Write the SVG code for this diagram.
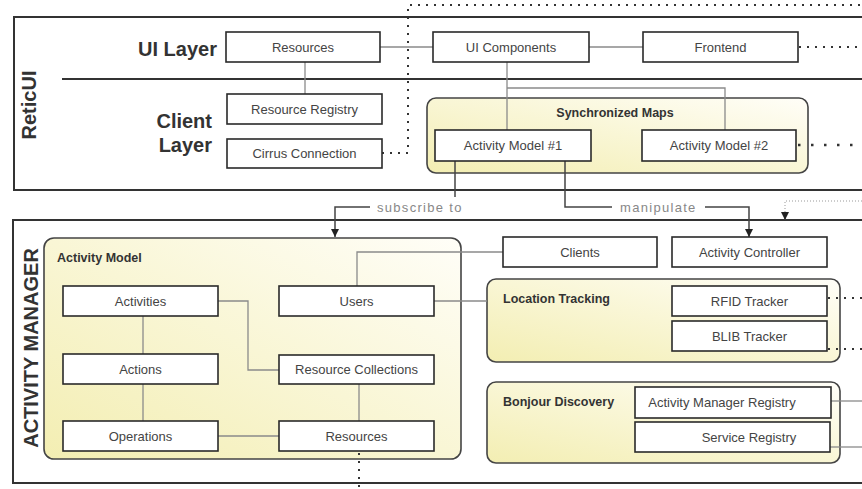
<svg xmlns="http://www.w3.org/2000/svg" width="862" height="489" viewBox="0 0 862 489">
  <style>
    .frame { fill: #ffffff; stroke: #333333; stroke-width: 2; }
    .sep { stroke: #333333; stroke-width: 2; }
    .box { fill: #ffffff; stroke: #2a2a2a; stroke-width: 1.6; }
    .group { fill: url(#yellowFill); stroke: #444444; stroke-width: 1.6; }
    .lbl { font-family: "Liberation Sans", Arial, sans-serif; font-size: 13px; fill: #444444; text-anchor: middle; dominant-baseline: central; }
    .glbl { font-family: "Liberation Sans", Arial, sans-serif; font-size: 12.5px; font-weight: bold; fill: #333333; dominant-baseline: central; }
    .big { font-family: "Liberation Sans", Arial, sans-serif; font-size: 20px; font-weight: bold; fill: #333333; }
    .elbl { font-family: "Liberation Sans", Arial, sans-serif; font-size: 13px; fill: #888888; letter-spacing: 1.3px; dominant-baseline: central; }
    .link { fill: none; stroke: #8a8a8a; stroke-width: 1.3; }
    .flow { fill: none; stroke: #444444; stroke-width: 1.5; }
    .dots { fill: none; stroke: #333333; stroke-width: 2; stroke-dasharray: 2 6; }
    .dotsWide { fill: none; stroke: #333333; stroke-width: 2.4; stroke-dasharray: 2.5 10.5; }
    .dotsFine { fill: none; stroke: #999999; stroke-width: 1; stroke-dasharray: 1 2; }
  </style>
  <defs>
    <linearGradient id="yellowFill" x1="1" y1="0" x2="0" y2="1">
      <stop offset="0" stop-color="#fffef8"/>
      <stop offset="1" stop-color="#f3eeb2"/>
    </linearGradient>
    <marker id="arrow" viewBox="0 0 10 10" refX="10" refY="5" markerWidth="8" markerHeight="8" markerUnits="userSpaceOnUse" orient="auto">
      <path d="M0,0 L10,5 L0,10 Z" fill="#222222"/>
    </marker>
  </defs>

  <rect width="862" height="489" fill="#ffffff"/>

  <!-- ReticUI frame -->
  <g id="reticui">
    <rect class="frame" x="14" y="17" width="860" height="173"/>
    <line class="sep" x1="62" y1="79" x2="862" y2="79"/>
    <text class="big" transform="translate(36,105) rotate(-90)" text-anchor="middle">ReticUI</text>
    <text class="big" x="217" y="56" text-anchor="end">UI Layer</text>
    <text class="big" x="212" y="128" text-anchor="end">Client</text>
    <text class="big" x="212" y="152" text-anchor="end">Layer</text>
  </g>

  <!-- Activity Manager frame -->
  <g id="activity-manager">
    <rect class="frame" x="13" y="220" width="860" height="263"/>
    <text class="big" transform="translate(38,348) rotate(-90)" text-anchor="middle">ACTIVITY MANAGER</text>
  </g>

  <!-- Containers -->
  <g id="synchronized-maps">
    <rect class="group" x="427" y="98" width="381" height="75" rx="9"/>
    <text class="glbl" x="615" y="113" text-anchor="middle">Synchronized Maps</text>
  </g>
  <g id="activity-model">
    <rect class="group" x="44" y="238" width="417" height="221" rx="10"/>
    <text class="glbl" x="57" y="258">Activity Model</text>
  </g>
  <g id="location-tracking">
    <rect class="group" x="487" y="279" width="353" height="83" rx="9"/>
    <text class="glbl" x="503" y="299">Location Tracking</text>
  </g>
  <g id="bonjour-discovery">
    <rect class="group" x="487" y="382" width="353" height="81" rx="9"/>
    <text class="glbl" x="503" y="402">Bonjour Discovery</text>
  </g>

  <!-- Connectors -->
  <g id="connectors">
    <path class="link" d="M380,47 H433"/>
    <path class="link" d="M589,47 H643"/>
    <path class="link" d="M305,62 V94"/>
    <path class="link" d="M507,62 V130"/>
    <path class="link" d="M507,88 H725 V130"/>
    <path class="link" d="M143,316 V354"/>
    <path class="link" d="M143,384 V421"/>
    <path class="link" d="M218,436 H279"/>
    <path class="link" d="M218,301 H248 V370 H279"/>
    <path class="link" d="M359,384 V421"/>
    <path class="link" d="M357,286 V252 H503"/>
    <path class="link" d="M434,301 H487"/>
    <path class="link" d="M831,401 H862"/>
    <path class="link" d="M830,447 H862"/>

    <path class="flow" d="M455,161 V197"/>
    <path class="flow" d="M370,207 H335 V237" marker-end="url(#arrow)"/>
    <text class="elbl" x="377" y="207">subscribe to</text>

    <path class="flow" d="M565,161 V207 H612"/>
    <path class="flow" d="M705,207 H749 V237" marker-end="url(#arrow)"/>
    <text class="elbl" x="620" y="207">manipulate</text>

    <path class="dots" d="M382,153 H408 V5 H862"/>
    <path class="dots" d="M799,47 H862"/>
    <path class="dotsWide" d="M798,145 H862"/>
    <path class="dotsFine" d="M862,201 H785 V213"/>
    <path class="flow" d="M785,213 V220" marker-end="url(#arrow)"/>
    <path class="dots" d="M828,298 H862"/>
    <path class="dots" d="M828,349 H862"/>
    <path class="dots" d="M359,453 V489"/>
  </g>

  <!-- Nodes -->
  <g id="ui-resources"><rect class="box" x="226" y="32" width="154" height="30"/><text class="lbl" x="303" y="47">Resources</text></g>
  <g id="resource-registry"><rect class="box" x="227" y="94" width="155" height="30"/><text class="lbl" x="304.5" y="109">Resource Registry</text></g>
  <g id="cirrus-connection"><rect class="box" x="227" y="139" width="155" height="29"/><text class="lbl" x="304.5" y="153.5">Cirrus Connection</text></g>
  <g id="ui-components"><rect class="box" x="433" y="32" width="156" height="30"/><text class="lbl" x="511" y="47">UI Components</text></g>
  <g id="frontend"><rect class="box" x="643" y="32" width="155" height="30"/><text class="lbl" x="720.5" y="47">Frontend</text></g>
  <g id="activity-model-1"><rect class="box" x="435" y="130" width="156" height="31"/><text class="lbl" x="513" y="145.5">Activity Model #1</text></g>
  <g id="activity-model-2"><rect class="box" x="642" y="130" width="154" height="31"/><text class="lbl" x="719" y="145.5">Activity Model #2</text></g>

  <g id="activities"><rect class="box" x="63" y="286" width="155" height="30"/><text class="lbl" x="140.5" y="301">Activities</text></g>
  <g id="actions"><rect class="box" x="63" y="354" width="155" height="30"/><text class="lbl" x="140.5" y="369">Actions</text></g>
  <g id="operations"><rect class="box" x="63" y="421" width="155" height="30"/><text class="lbl" x="140.5" y="436">Operations</text></g>
  <g id="users"><rect class="box" x="279" y="286" width="155" height="30"/><text class="lbl" x="356.5" y="301">Users</text></g>
  <g id="resource-collections"><rect class="box" x="279" y="355" width="155" height="29"/><text class="lbl" x="356.5" y="369.5">Resource Collections</text></g>
  <g id="am-resources"><rect class="box" x="279" y="421" width="155" height="30"/><text class="lbl" x="356.5" y="436">Resources</text></g>

  <g id="clients"><rect class="box" x="503" y="237" width="154" height="30"/><text class="lbl" x="580" y="252">Clients</text></g>
  <g id="activity-controller"><rect class="box" x="672" y="237" width="155" height="30"/><text class="lbl" x="749.5" y="252">Activity Controller</text></g>
  <g id="rfid-tracker"><rect class="box" x="672" y="286" width="155" height="30"/><text class="lbl" x="749.5" y="301">RFID Tracker</text></g>
  <g id="blib-tracker"><rect class="box" x="672" y="321" width="155" height="30"/><text class="lbl" x="749.5" y="336">BLIB Tracker</text></g>
  <g id="activity-manager-registry"><rect class="box" x="635" y="387" width="196" height="31"/><text class="lbl" x="722" y="402.5">Activity Manager Registry</text></g>
  <g id="service-registry"><rect class="box" x="635" y="422" width="195" height="30"/><text class="lbl" x="749" y="437">Service Registry</text></g>
</svg>
